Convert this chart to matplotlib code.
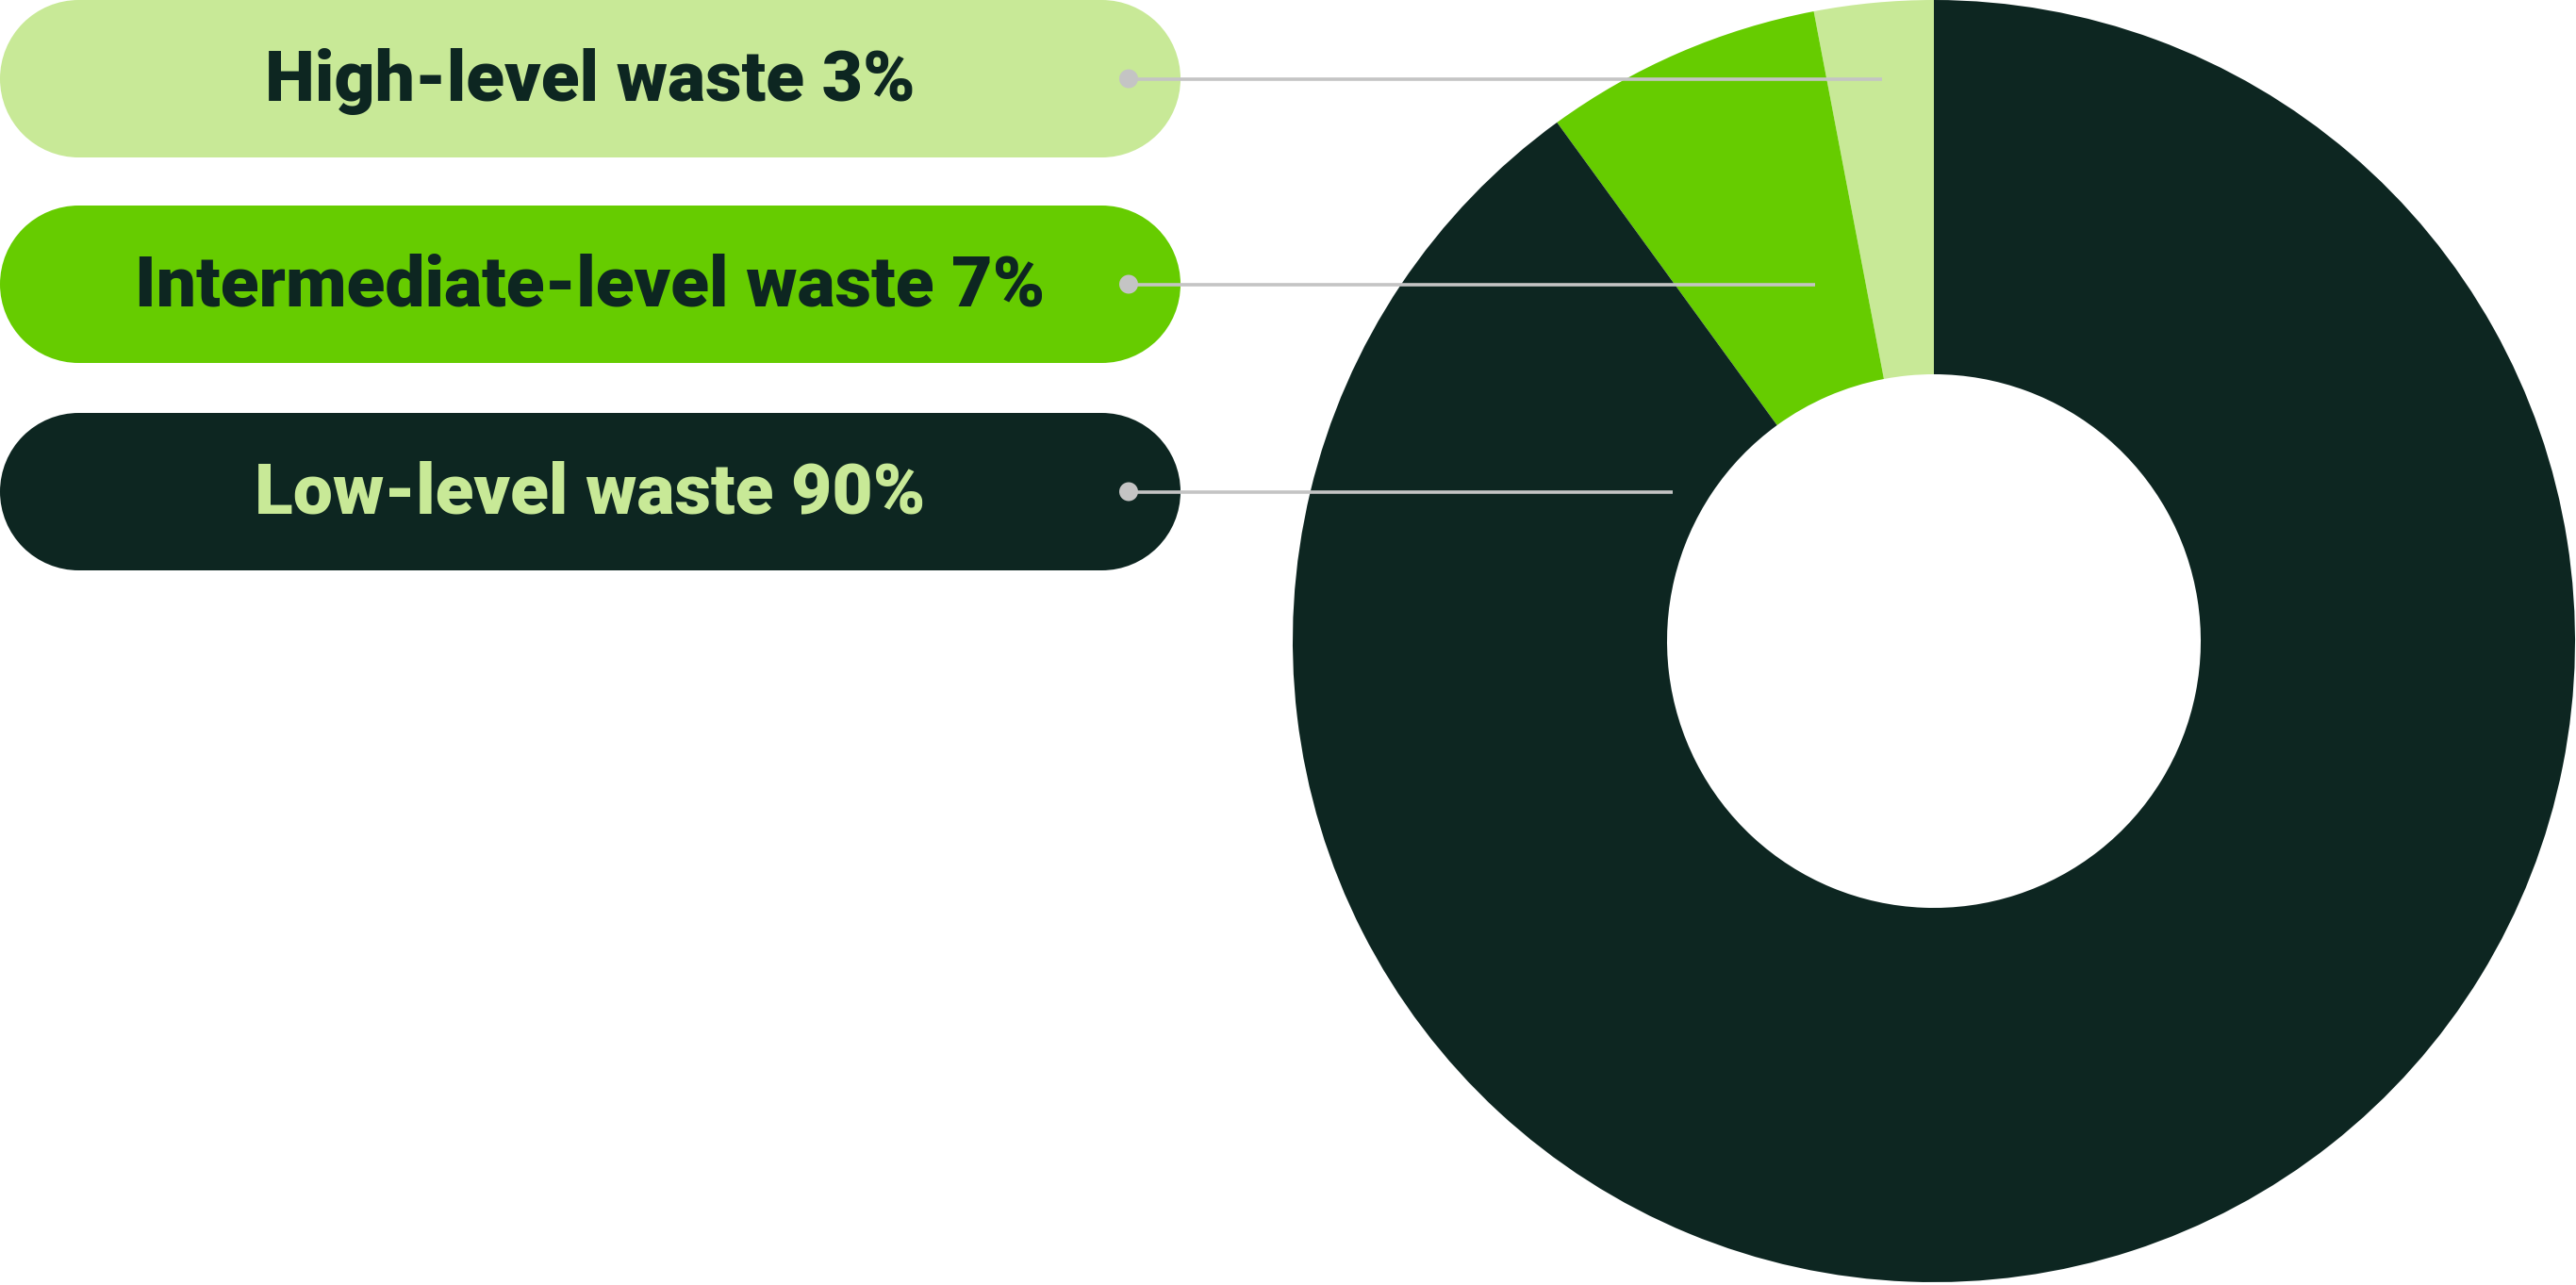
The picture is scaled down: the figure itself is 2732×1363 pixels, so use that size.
import matplotlib
matplotlib.use("Agg")
import matplotlib.pyplot as plt
from matplotlib.patches import Rectangle, Circle

# data
labels = ["High-level waste", "Intermediate-level waste", "Low-level waste"]
shares = [3, 7, 90]
colors = ["#c8e997", "#66cc00", "#0d2621"]
text_colors = ["#0d2621", "#0d2621", "#c8e997"]

# layout, in pixels of the final image (y measured from the top)
W, H = 2732, 1363
pie_cx, pie_cy, pie_r, hole_r = 2051, 680, 680, 283
pill_w, pill_h = 1252, 167
pill_tops = [0, 218, 438]
dot_x = 1197
line_ends = [1996, 1925, 1774]

fig = plt.figure(figsize=(W / 100, H / 100), dpi=100)
ax = fig.add_axes([0, 0, 1, 1])

ax.pie(shares, colors=colors, startangle=90, counterclock=True,
       center=(pie_cx, H - pie_cy), radius=pie_r,
       wedgeprops=dict(width=pie_r - hole_r, linewidth=0))

r = pill_h / 2
for k in range(len(labels)):
    y0 = H - pill_tops[k] - pill_h
    yc = y0 + r
    # pill = rectangle with two half circles at the ends
    ax.add_patch(Rectangle((r, y0), pill_w - 2 * r, pill_h,
                           facecolor=colors[k], edgecolor="none", zorder=3))
    ax.add_patch(Circle((r, yc), r, facecolor=colors[k], edgecolor="none", zorder=3))
    ax.add_patch(Circle((pill_w - r, yc), r, facecolor=colors[k],
                        edgecolor="none", zorder=3))
    ax.text(pill_w / 2, yc + 5, "%s %d%%" % (labels[k], shares[k]),
            ha="center", va="center_baseline", fontsize=54, fontweight=900,
            family=["Roboto", "DejaVu Sans"], color=text_colors[k],
            zorder=4)
    ax.plot([dot_x, line_ends[k]], [yc, yc], color="#c4c4c4", lw=2.6,
            solid_capstyle="butt", zorder=5)
    ax.add_patch(Circle((dot_x, yc), 10, facecolor="#c4c4c4",
                        edgecolor="none", zorder=6))

ax.set_xlim(0, W)
ax.set_ylim(0, H)
ax.set_aspect("auto")
ax.axis("off")

fig.savefig("out.png", dpi=100, facecolor="white")
